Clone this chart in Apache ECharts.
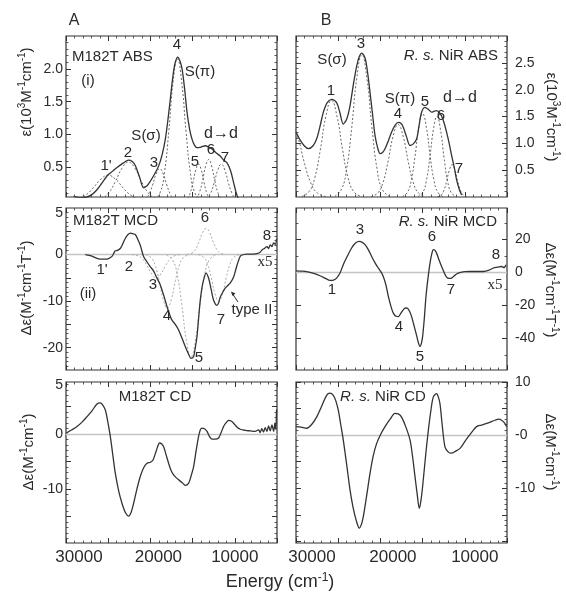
<!DOCTYPE html>
<html><head><meta charset="utf-8">
<script src="https://cdn.jsdelivr.net/npm/echarts@6/dist/echarts.min.js"></script>
<style>html,body{margin:0;padding:0;background:#fff}#c{width:566px;height:597px}</style>
</head><body><div id="c"></div>
<script>
// ---------- DATA (energy in cm-1, value) ----------
const xTickVals = [30000, 20000, 10000];
const xTickText = ['30000', '20000', '10000'];

const absA_yTicks = [0.5, 1.0, 1.5, 2.0];
const absA_yText = ['0.5', '1.0', '1.5', '2.0'];
const absB_yTicks = [0.5, 1.0, 1.5, 2.0, 2.5];
const absB_yText = ['0.5', '1.0', '1.5', '2.0', '2.5'];
const mcdA_yTicks = [8.9, 0, -10, -20];
const mcdA_yText = ['5', '0', '-10', '-20'];
const mcdB_yTicks = [20, 0, -20, -40];
const mcdB_yText = ['20', '0', '-20', '-40'];
const cdA_yTicks = [9, 0, -10];
const cdA_yText = ['5', '0', '-10'];
const cdB_yTicks = [10, 0, -10];
const cdB_yText = ['10', '-0', '-10'];

// Panel A (i) M182T ABS
const absA_solid = [[29100,0.06],[28300,0.04],[27510,0.05],[26900,0.09],[26330,0.16],[25700,0.27],[25140,0.37],[24500,0.44],[23960,0.50],[23200,0.57],[22580,0.61],[22150,0.59],[21790,0.53],[21300,0.36],[20800,0.19],[20400,0.22],[20010,0.29],[19500,0.40],[19030,0.52],[18600,0.70],[18230,0.93],[17900,1.25],[17640,1.54],[17300,1.92],[17050,2.10],[16770,2.18],[16500,2.12],[16250,2.00],[15950,1.70],[15660,1.34],[15350,1.08],[15070,0.93],[14780,0.84],[14480,0.80],[14000,0.81],[13490,0.83],[13100,0.81],[12700,0.78],[12200,0.72],[11710,0.67],[11300,0.61],[10920,0.57],[10500,0.45],[10140,0.27],[9850,0.12],[9550,0.01]];
const absA_b1p = [[29800,0.002],[28600,0.021],[27700,0.075],[26800,0.185],[25900,0.317],[25000,0.38],[24100,0.317],[23200,0.185],[22300,0.075],[21400,0.021],[20200,0.002]];
const absA_b2 = [[26760,0.003],[25720,0.032],[24940,0.115],[24160,0.282],[23380,0.484],[22600,0.58],[21820,0.484],[21040,0.282],[20260,0.115],[19480,0.032],[18440,0.003]];
const absA_b3 = [[21140,0.003],[20580,0.027],[20160,0.095],[19740,0.234],[19320,0.401],[18900,0.48],[18480,0.401],[18060,0.234],[17640,0.095],[17220,0.027],[16660,0.003]];
const absA_b4 = [[19520,0.013],[18840,0.12],[18330,0.426],[17820,1.047],[17310,1.795],[16800,2.15],[16290,1.795],[15780,1.047],[15270,0.426],[14760,0.12],[14080,0.013]];
const absA_b5 = [[16060,0.003],[15620,0.031],[15290,0.109],[14960,0.268],[14630,0.459],[14300,0.55],[13970,0.459],[13640,0.268],[13310,0.109],[12980,0.031],[12540,0.003]];
const absA_b6 = [[15020,0.004],[14540,0.035],[14180,0.123],[13820,0.302],[13460,0.518],[13100,0.62],[12740,0.518],[12380,0.302],[12020,0.123],[11660,0.035],[11180,0.004]];
const absA_b7 = [[13840,0.003],[13280,0.031],[12860,0.109],[12440,0.268],[12020,0.459],[11600,0.55],[11180,0.459],[10760,0.268],[10340,0.109],[9920,0.031],[9360,0.003]];

// Panel B R. s. NiR ABS
const absB_solid = [[30000,1.21],[29500,1.06],[29000,0.95],[28540,0.90],[28000,0.95],[27560,1.08],[27150,1.32],[26760,1.58],[26300,1.76],[25780,1.82],[25190,1.76],[24800,1.57],[24400,1.36],[24000,1.45],[23600,1.70],[23200,2.10],[22810,2.44],[22500,2.62],[22220,2.68],[21820,2.59],[21500,2.30],[21230,1.95],[20900,1.50],[20640,1.15],[20300,0.90],[20040,0.81],[19750,0.83],[19450,0.90],[19050,1.05],[18670,1.21],[18250,1.34],[17880,1.39],[17550,1.37],[17290,1.30],[16900,1.12],[16490,0.96],[16100,0.99],[15710,1.08],[15400,1.35],[15120,1.58],[14720,1.67],[14300,1.63],[13930,1.58],[13600,1.60],[13340,1.61],[13050,1.58],[12750,1.51],[12450,1.38],[12160,1.21],[11850,1.00],[11570,0.78],[11250,0.55],[10970,0.32],[10650,0.14],[10380,0.04]];
const absB_b0 = [[31380,1.127],[30600,1.35],[29820,1.127],[29040,0.657],[28260,0.267],[27480,0.076],[26440,0.008]];
const absB_b1 = [[29320,0.011],[28440,0.101],[27780,0.356],[27120,0.877],[26460,1.503],[25800,1.8],[25140,1.503],[24480,0.877],[23820,0.356],[23160,0.101],[22280,0.011]];
const absB_b3 = [[25400,0.016],[24600,0.148],[24000,0.525],[23400,1.291],[22800,2.213],[22200,2.65],[21600,2.213],[21000,1.291],[20400,0.525],[19800,0.148],[19000,0.016]];
const absB_b4 = [[21100,0.008],[20300,0.076],[19700,0.267],[19100,0.657],[18500,1.127],[17900,1.35],[17300,1.127],[16700,0.657],[16100,0.267],[15500,0.076],[14700,0.008]];
const absB_b5 = [[17400,0.009],[16800,0.087],[16350,0.307],[15900,0.755],[15450,1.294],[15000,1.55],[14550,1.294],[14100,0.755],[13650,0.307],[13200,0.087],[12600,0.009]];
const absB_b6 = [[15540,0.009],[14980,0.084],[14560,0.297],[14140,0.731],[13720,1.253],[13300,1.5],[12880,1.253],[12460,0.731],[12040,0.297],[11620,0.084],[11060,0.009]];
const absB_b7 = [[13260,0.004],[12820,0.034],[12490,0.119],[12160,0.292],[11830,0.501],[11500,0.6],[11170,0.501],[10840,0.292],[10510,0.119],[10180,0.034],[9740,0.004]];

// Panel A (ii) M182T MCD
const mcdA_solid = [[27710,0],[27000,-0.3],[26330,-0.8],[25800,-1.0],[25340,-1.0],[24900,-0.8],[24550,-0.4],[24300,0.4],[24160,0.8],[23900,0.9],[23570,1.3],[23250,2.4],[22970,3.5],[22650,4.3],[22380,4.6],[22100,4.5],[21790,4.3],[21500,3.3],[21200,2.0],[20810,-0.4],[20400,-1.6],[20010,-2.6],[19600,-3.6],[19220,-5.1],[18900,-6.2],[18630,-7.6],[18330,-9.3],[18030,-11.2],[17700,-13.0],[17440,-14.1],[17050,-15.0],[16660,-16.2],[16250,-18.0],[15860,-19.8],[15500,-21.3],[15190,-22.3],[14880,-21.9],[14680,-20.0],[14480,-17.6],[14280,-13.5],[14090,-9.8],[13880,-7.0],[13700,-5.5],[13410,-4.0],[13100,-5.1],[12800,-7.5],[12510,-9.8],[12110,-10.9],[11900,-10.3],[11720,-9.1],[11400,-8.0],[11130,-7.2],[10800,-6.6],[10530,-6.1],[10140,-4.8],[9940,-3.6],[9740,-2.3],[9500,-1.0],[9270,-0.2],[8560,0.1],[7800,0.1],[7370,0.2],[7000,0.5],[6780,1.0],[6500,1.3],[6190,1.7],[6000,1.3],[5800,2.1],[5600,1.7],[5400,2.5],[5200,2.2],[5050,3.4]];
const mcdA_b3 = [[22180,-0.03],[21460,-0.28],[20920,-0.99],[20380,-2.435],[19840,-4.175],[19300,-5],[18760,-4.175],[18220,-2.435],[17680,-0.99],[17140,-0.28],[16420,-0.03]];
const mcdA_b4 = [[20560,-0.069],[19920,-0.644],[19440,-2.28],[18960,-5.6],[18480,-9.6],[18000,-11.5],[17520,-9.6],[17040,-5.6],[16560,-2.28],[16080,-0.644],[15440,-0.069]];
const mcdA_b5 = [[18080,-0.13],[17360,-1.23],[16820,-4.36],[16280,-10.71],[15740,-18.37],[15200,-22],[14660,-18.37],[14120,-10.71],[13580,-4.36],[13040,-1.23],[12320,-0.13]];
const mcdA_b6 = [[15640,0.034],[15080,0.314],[14660,1.109],[14240,2.727],[13820,4.676],[13400,5.6],[12980,4.676],[12560,2.727],[12140,1.109],[11720,0.314],[11160,0.034]];
const mcdA_b7 = [[14300,-0.06],[13700,-0.56],[13250,-1.98],[12800,-4.87],[12350,-8.35],[11900,-10],[11450,-8.35],[11000,-4.87],[10550,-1.98],[10100,-0.56],[9500,-0.06]];

// Panel B R. s. NiR MCD
const mcdB_solid = [[30000,1.0],[29300,0.8],[28740,0.5],[27900,-0.6],[27160,-2.0],[26500,-3.6],[25970,-4.8],[25550,-4.6],[25190,-3.4],[24800,-0.5],[24400,4.7],[23900,10.0],[23410,14.8],[22950,17.8],[22500,18.8],[22150,18.2],[21820,16.8],[21400,13.5],[21040,9.7],[20650,6.0],[20250,2.7],[19950,0.5],[19660,-2.4],[19350,-7.5],[19060,-14.5],[18750,-20.5],[18470,-24.6],[18150,-26.5],[17880,-26.7],[17550,-24.5],[17290,-22.6],[17050,-21.5],[16810,-21.6],[16550,-23.5],[16300,-26.7],[16050,-31.5],[15780,-36.7],[15500,-42.5],[15310,-44.8],[15150,-43.0],[15000,-38.8],[14800,-28.0],[14600,-14.5],[14350,-3.0],[14120,5.7],[13900,11.5],[13730,13.8],[13550,13.5],[13340,11.7],[13050,7.5],[12750,3.6],[12450,0.0],[12160,-2.8],[11850,-3.6],[11570,-3.4],[11150,-1.6],[10770,-0.4],[10000,0.5],[9380,0.6],[8500,0.6],[7800,0.6],[7200,1.2],[6620,2.7],[6100,3.2],[5640,3.6],[5350,3.0],[5120,4.6]];

// Panel A M182T CD
const cdA_solid = [[29960,0.2],[29300,0.8],[28700,1.4],[28100,2.2],[27510,3.2],[26900,4.3],[26330,5.5],[25940,5.7],[25640,5.3],[25340,4.4],[25050,2.3],[24750,-0.4],[24450,-3.8],[24160,-7.1],[23760,-10.3],[23360,-12.6],[22950,-14.3],[22580,-14.9],[22280,-14.2],[21990,-12.6],[21600,-10.0],[21200,-7.7],[20800,-6.1],[20400,-5.3],[19990,-5.1],[19690,-4.7],[19300,-3.0],[18910,-1.6],[18650,-1.8],[18430,-2.3],[18130,-3.8],[17840,-5.3],[17550,-6.6],[17250,-7.4],[16950,-7.9],[16660,-8.3],[16250,-8.8],[15860,-9.3],[15470,-8.9],[15180,-7.6],[14880,-5.9],[14580,-3.0],[14290,-0.4],[14080,0.8],[13880,1.1],[13590,1.0],[13290,0.5],[13000,-0.4],[12700,-0.9],[12300,-0.9],[11920,-0.7],[11620,0.3],[11330,1.4],[11030,2.1],[10730,2.5],[10440,2.4],[10140,2.0],[9750,1.3],[9350,0.9],[8750,0.7],[8160,0.6],[7600,0.5],[7170,0.8],[7000,0.3],[6800,1.0],[6600,0.4],[6400,1.2],[6190,0.5],[6000,1.5],[5800,0.6],[5600,1.7],[5400,0.5],[5250,2.0],[5150,0.9],[5050,4.5]];

// Panel B R. s. NiR CD
const cdB_solid = [[30000,1.6],[29400,1.5],[28740,1.3],[28150,2.0],[27560,3.4],[26950,5.5],[26370,7.5],[25980,7.9],[25580,7.5],[25290,6.5],[24990,4.7],[24700,2.0],[24400,-0.9],[24000,-5.5],[23600,-10.3],[23250,-13.5],[22890,-15.9],[22500,-17.5],[22250,-16.8],[22020,-15.3],[21620,-11.3],[21230,-7.2],[20850,-3.9],[20450,-1.6],[19950,0.2],[19450,1.6],[18850,3.0],[18270,4.1],[17880,4.0],[17490,3.4],[17000,1.6],[16490,-0.9],[16200,-3.9],[15900,-7.8],[15650,-11.0],[15390,-13.8],[15150,-11.8],[14920,-8.4],[14620,-3.5],[14320,0.9],[14030,4.5],[13730,7.2],[13340,7.8],[13140,7.2],[12940,5.9],[12650,1.5],[12350,-2.2],[11950,-3.2],[11570,-3.4],[11070,-3.0],[10570,-2.5],[10080,-1.4],[9580,-0.3],[9100,0.7],[8600,1.6],[8000,1.9],[7410,2.2],[6900,2.5],[6420,2.8],[6000,3.0],[5640,2.8],[5300,2.3],[5050,1.6]];

// ---------- STYLE / LAYOUT ----------
const FONT = '"Liberation Sans", Arial, Helvetica, sans-serif';
const INK = '#2a2a2a';
const solidStyle = {color: '#333', width: 1.3};
const dashDark = {color: '#555', width: 0.9, type: [2, 2]};
const dashLight = {color: '#aaa', width: 1, type: [2, 2]};

function range(a, b, s) { const r = []; for (let v = a; v <= b + 1e-9; v += s) r.push(Math.round(v * 1000) / 1000); return r; }

const panels = [
  {g: {left: 66, top: 36, width: 211, height: 161}, side: 'left', min: 0.05, max: 2.5, major: absA_yTicks, minor: range(0.1, 2.4, 0.1), lv: absA_yTicks, lt: absA_yText, xlab: false,
   lines: [[absA_b1p, dashDark], [absA_b2, dashDark], [absA_b3, dashDark], [absA_b4, dashDark], [absA_b5, dashDark], [absA_b6, dashDark], [absA_b7, dashDark], [absA_solid, solidStyle]], zero: false},
  {g: {left: 296, top: 36, width: 211, height: 161}, side: 'right', min: 0, max: 3.0, major: absB_yTicks, minor: range(0.1, 2.9, 0.1), lv: absB_yTicks, lt: absB_yText, xlab: false,
   lines: [[absB_b0, dashDark], [absB_b1, dashDark], [absB_b3, dashDark], [absB_b4, dashDark], [absB_b5, dashDark], [absB_b6, dashDark], [absB_b7, dashDark], [absB_solid, solidStyle]], zero: false},
  {g: {left: 66, top: 208, width: 211, height: 162}, side: 'left', min: -24.8, max: 10, major: [5, 0, -5, -10, -15, -20], minor: range(-24, 9, 1), lv: mcdA_yTicks, lt: mcdA_yText, xlab: false,
   lines: [[mcdA_b3, dashLight], [mcdA_b4, dashLight], [mcdA_b5, dashLight], [mcdA_b6, dashLight], [mcdA_b7, dashLight], [mcdA_solid, solidStyle]], zero: true},
  {g: {left: 296, top: 208, width: 211, height: 162}, side: 'right', min: -59, max: 39, major: [20, 0, -20, -40], minor: range(-50, 30, 10), lv: mcdB_yTicks, lt: mcdB_yText, xlab: false,
   lines: [[mcdB_solid, solidStyle]], zero: true},
  {g: {left: 66, top: 382, width: 211, height: 161}, side: 'left', min: -19.8, max: 9.5, major: [5, 0, -5, -10, -15], minor: range(-19, 9, 1), lv: cdA_yTicks, lt: cdA_yText, xlab: true, xPad: [26, 16, 0],
   lines: [[cdA_solid, solidStyle]], zero: true},
  {g: {left: 296, top: 382, width: 211, height: 161}, side: 'right', min: -20.3, max: 10, major: [10, 5, 0, -5, -10, -15, -20], minor: range(-20, 9, 1), lv: cdB_yTicks, lt: cdB_yText, xlab: true, xPad: [32, 25, 20],
   lines: [[cdB_solid, solidStyle]], zero: true}
];

const tickLine = {color: '#333', width: 1};
function xAxisDef(gi, pos, p, withLabel) {
  const pads = p.xPad || [0, 0, 0];
  const rich = {};
  pads.forEach((pd, k) => { rich['p' + k] = {padding: [0, 0, 0, pd], fontSize: 17, fontFamily: FONT, color: INK}; });
  return {
    type: 'value', gridIndex: gi, position: pos, min: 5000, max: 30000, interval: 5000, inverse: true,
    axisLine: {show: false, onZero: false}, splitLine: {show: false}, minorSplitLine: {show: false},
    axisTick: {show: true, inside: true, length: 5, lineStyle: tickLine},
    minorTick: {show: true, splitNumber: 5, length: 2.5, lineStyle: {color: '#333', width: 0.8}},
    axisLabel: withLabel ? {
      show: true, margin: 6, fontSize: 17, fontFamily: FONT, color: INK,
      showMinLabel: true, showMaxLabel: true, hideOverlap: false,
      formatter: v => { const k = xTickVals.indexOf(v); return k < 0 ? '' : '{p' + k + '|' + xTickText[k] + '}'; },
      rich: rich
    } : {show: false}
  };
}
function yAxisDef(gi, pos, p, ticks, len, withLabel) {
  return {
    type: 'value', gridIndex: gi, position: pos, min: p.min, max: p.max,
    axisLine: {show: false, onZero: false}, splitLine: {show: false},
    axisTick: {show: true, inside: true, length: len, customValues: ticks, lineStyle: {color: '#333', width: len > 3 ? 1 : 0.8}},
    axisLabel: withLabel ? {
      show: true, customValues: p.lv, margin: pos === 'left' ? 3 : 8, fontSize: 14, fontFamily: FONT, color: INK,
      formatter: v => { const k = p.lv.findIndex(t => Math.abs(t - v) < 1e-6); return k < 0 ? '' : p.lt[k]; }
    } : {show: false}
  };
}

const grids = [], xAxes = [], yAxes = [], series = [];
panels.forEach((p, i) => {
  grids.push(Object.assign({show: true, borderColor: '#333', borderWidth: 1.2, backgroundColor: 'transparent', containLabel: false}, p.g));
  const xi = xAxes.length;
  xAxes.push(xAxisDef(i, 'bottom', p, p.xlab));
  xAxes.push(xAxisDef(i, 'top', p, false));
  const yi = yAxes.length;
  const other = p.side === 'left' ? 'right' : 'left';
  yAxes.push(yAxisDef(i, p.side, p, p.major, 5, true));
  yAxes.push(yAxisDef(i, other, p, p.major, 5, false));
  yAxes.push(yAxisDef(i, p.side, p, p.minor, 2.5, false));
  yAxes.push(yAxisDef(i, other, p, p.minor, 2.5, false));
  p.lines.forEach((ln, k) => {
    const isSolid = ln[1] === solidStyle;
    const s = {
      type: 'line', xAxisIndex: xi, yAxisIndex: yi, data: ln[0], showSymbol: false, symbol: 'none',
      smooth: isSolid ? 0.3 : 0.5, clip: true, silent: true, animation: false,
      lineStyle: ln[1], z: isSolid ? 5 : 3
    };
    if (isSolid && p.zero) {
      s.markLine = {silent: true, symbol: ['none', 'none'], label: {show: false}, animation: false,
        lineStyle: {color: '#c4c4c4', width: 1.3, type: 'solid'}, data: [{yAxis: 0}], z: 1};
    }
    series.push(s);
  });
});

// ---------- ANNOTATIONS ----------
function T(x, y, text, o) {
  o = o || {};
  return {type: 'text', x: x, y: y, rotation: o.rot || 0, z: 100, silent: true,
    style: Object.assign({text: text, fontSize: o.fs || 15, fontFamily: o.ff || FONT, fill: INK,
      align: o.align || 'center', verticalAlign: 'middle'}, o.style || {})};
}
const supRich = {n: {fontSize: 15, fontFamily: FONT, fill: INK, lineHeight: 20}, s: {fontSize: 10, fontFamily: FONT, fill: INK, verticalAlign: 'top'}};
function TR(x, y, text, rot, fs) {
  const rich = {n: Object.assign({}, supRich.n, {fontSize: fs || 15}), s: Object.assign({}, supRich.s, {fontSize: Math.round((fs || 15) * 0.66)})};
  return {type: 'text', x: x, y: y, rotation: rot, z: 100, silent: true,
    style: {text: text, rich: rich, align: 'center', verticalAlign: 'middle', fill: INK, fontFamily: FONT}};
}
const italicRich = {i: {fontStyle: 'italic', fontSize: 15, fontFamily: FONT, fill: INK}, n: {fontSize: 15, fontFamily: FONT, fill: INK}};
function TI(x, y, text, align) {
  return {type: 'text', x: x, y: y, z: 100, silent: true,
    style: {text: text, rich: italicRich, align: align, verticalAlign: 'middle', fill: INK, fontFamily: FONT}};
}

const H = Math.PI / 2;
const graphics = [
  T(74, 21, 'A', {fs: 16}), T(326, 21, 'B', {fs: 16}),
  // axis titles
  TR(27, 92, '{n|ε(10}{s|3}{n|M}{s|-1}{n|cm}{s|-1}{n|)}', H),
  TR(27, 288, '{n|Δε(M}{s|-1}{n|cm}{s|-1}{n|T}{s|-1}{n|)}', H),
  TR(29, 452, '{n|Δε(M}{s|-1}{n|cm}{s|-1}{n|)}', H),
  TR(551, 117, '{n|ε(10}{s|3}{n|M}{s|-1}{n|cm}{s|-1}{n|)}', -H),
  TR(550, 290, '{n|Δε(M}{s|-1}{n|cm}{s|-1}{n|T}{s|-1}{n|)}', -H),
  TR(550, 452, '{n|Δε(M}{s|-1}{n|cm}{s|-1}{n|)}', -H),
  TR(280, 582, '{n|Energy (cm}{s|-1}{n|)}', 0, 18),
  // A ABS
  T(72, 57, 'M182T ABS', {align: 'left'}), T(88, 81, '(i)'),
  T(177, 45, '4'), T(200, 72, 'S(π)'), T(146, 136, 'S(σ)'), T(221, 134, 'd→d', {fs: 16}),
  T(106, 166, "1'"), T(128, 153, '2'), T(154, 163, '3'), T(195, 162, '5'), T(211, 150, '6'), T(225, 158, '7'),
  // B ABS
  TI(498, 56, '{i|R. s.}{n| NiR ABS}', 'right'),
  T(332, 60, 'S(σ)'), T(361, 44, '3'), T(331, 91, '1'), T(400, 99, 'S(π)'), T(398, 114, '4'),
  T(425, 102, '5'), T(460, 98, 'd→d', {fs: 16}), T(441, 116, '6'), T(459, 169, '7'),
  // A MCD
  T(73, 221, 'M182T MCD', {align: 'left'}), T(205, 218, '6'), T(129, 267, '2'), T(102, 270, "1'"),
  T(153, 285, '3'), T(88, 294, '(ii)'), T(167, 316, '4'), T(199, 358, '5'), T(221, 320, '7'),
  T(252, 310, 'type II'), T(267, 236, '8'), T(265, 262, 'x5', {ff: '"Liberation Serif", "DejaVu Serif", serif'}),
  {type: 'polyline', z: 100, silent: true, shape: {points: [[238, 302], [232, 293]]}, style: {stroke: INK, lineWidth: 1}},
  {type: 'polygon', z: 100, silent: true, shape: {points: [[231, 291.5], [235.5, 293.5], [232.5, 296]]}, style: {fill: INK}},
  // B MCD
  TI(497, 222, '{i|R. s.}{n| NiR MCD}', 'right'),
  T(360, 230, '3'), T(332, 290, '1'), T(432, 237, '6'), T(399, 327, '4'), T(420, 357, '5'), T(451, 290, '7'),
  T(496, 255, '8'), T(495, 285, 'x5', {ff: '"Liberation Serif", "DejaVu Serif", serif'}),
  // CD
  T(155, 397, 'M182T CD'),
  TI(383, 397, '{i|R. s.}{n| NiR CD}', 'center')
];

const chart = echarts.init(document.getElementById('c'), null, {renderer: 'canvas'});
chart.setOption({
  animation: false,
  backgroundColor: '#fff',
  grid: grids, xAxis: xAxes, yAxis: yAxes, series: series,
  graphic: graphics
});
</script></body></html>
